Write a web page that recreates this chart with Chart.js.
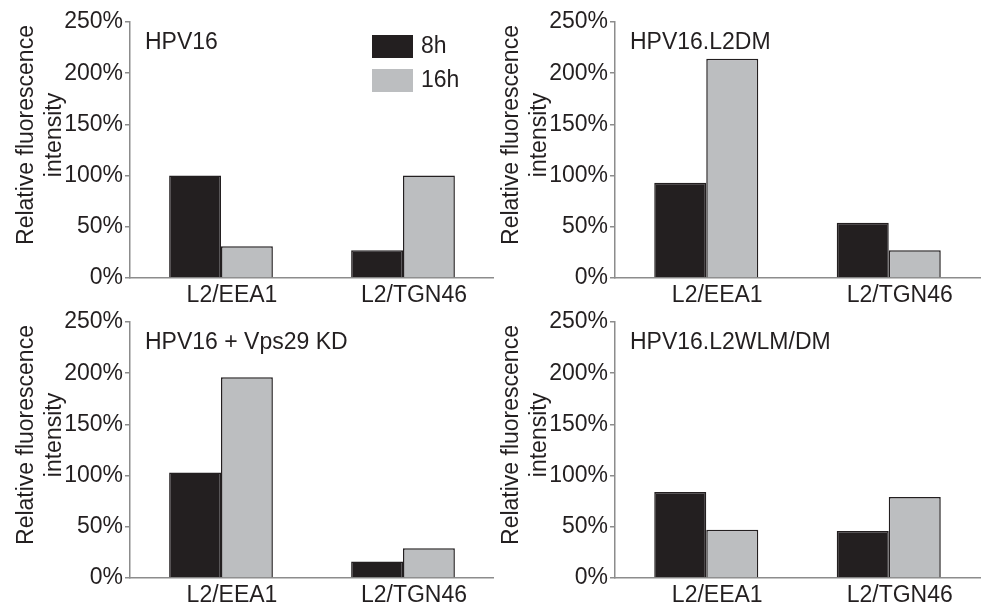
<!DOCTYPE html>
<html>
<head>
<meta charset="utf-8">
<script src="https://cdn.jsdelivr.net/npm/chart.js@4.4.1/dist/chart.umd.min.js"></script>
<style>
  html, body { margin: 0; padding: 0; background: #fff; }
  #wrap { position: relative; width: 984px; height: 603px; overflow: hidden; }
  #wrap canvas { position: absolute; }
</style>
</head>
<body>
<div id="wrap">
  <canvas id="c1" width="494" height="303" style="left:0;top:0"></canvas>
  <canvas id="c2" width="499" height="303" style="left:485px;top:0"></canvas>
  <canvas id="c3" width="494" height="303" style="left:0;top:300px"></canvas>
  <canvas id="c4" width="499" height="303" style="left:485px;top:300px"></canvas>
</div>
<script>
// categories and series
const categories = ['L2/EEA1', 'L2/TGN46'];
const seriesLabels = ['8h', '16h'];
const yTickValues = [0, 50, 100, 150, 200, 250];
const yTitleLines = ['Relative fluorescence', 'intensity'];
const panelTitles = ['HPV16', 'HPV16.L2DM', 'HPV16 + Vps29 KD', 'HPV16.L2WLM/DM'];

// values in %
const hpv16_8h = [100, 27];
const hpv16_16h = [31, 100];
const l2dm_8h = [93, 54];
const l2dm_16h = [214, 27];
const vps29_8h = [103, 16];
const vps29_16h = [196, 29];
const wlm_8h = [84, 46];
const wlm_16h = [47, 79];

const TEXT = '#231f20';
const DARK = '#231f20';
const LIGHT = '#bcbec0';
const AXIS = '#8c8c8c';
const FONT = '"Liberation Sans", Arial, sans-serif';

/** Panel label, rotated y title and the little legend */
const panelText = {
  id: 'panelText',
  afterDraw(chart, args, opts) {
    const { ctx, chartArea } = chart;
    ctx.save();
    ctx.font = '23px ' + FONT;
    ctx.fillStyle = TEXT;
    ctx.textBaseline = 'alphabetic';
    ctx.textAlign = 'left';
    ctx.fillText(opts.title, chartArea.left + 15, chartArea.top + 27);

    if (opts.legend) {
      chart.data.datasets.forEach((ds, i) => {
        const x = chartArea.left + 242;
        const y = chartArea.top + 13 + i * 34;
        ctx.fillStyle = ds.backgroundColor;
        ctx.fillRect(x, y, 41, 23);
        ctx.fillStyle = TEXT;
        ctx.textBaseline = 'middle';
        ctx.fillText(ds.label, x + 49, y + 12);
      });
    }

    ctx.translate(33, 135);
    ctx.rotate(-Math.PI / 2);
    ctx.textAlign = 'center';
    ctx.textBaseline = 'alphabetic';
    ctx.fillStyle = TEXT;
    yTitleLines.forEach((line, i) => ctx.fillText(line, 0, i * 28));
    ctx.restore();
  }
};

function makePanel(id, title, v8, v16, legend, rightPad) {
  return new Chart(document.getElementById(id), {
    type: 'bar',
    data: {
      labels: categories,
      datasets: [
        { label: seriesLabels[0], data: v8, backgroundColor: DARK },
        { label: seriesLabels[1], data: v16, backgroundColor: LIGHT }
      ]
    },
    plugins: [panelText],
    options: {
      responsive: false,
      animation: false,
      layout: { padding: { top: 22, left: 0, right: rightPad, bottom: 0 } },
      datasets: {
        bar: {
          categoryPercentage: 0.57,
          barPercentage: 1,
          borderColor: TEXT,
          borderWidth: 1.5,
          borderSkipped: 'start'
        }
      },
      scales: {
        x: {
          grid: { display: false, drawTicks: false },
          border: { color: AXIS, width: 1.5 },
          ticks: { color: TEXT, padding: 4, labelOffset: 11, font: { family: FONT, size: 23 } },
          afterFit(scale) { scale.height = 25; }
        },
        y: {
          min: 0,
          max: 250,
          afterBuildTicks(scale) { scale.ticks = yTickValues.map(v => ({ value: v })); },
          grid: { drawOnChartArea: false, drawTicks: true, tickLength: 5, color: AXIS, lineWidth: 1.5 },
          border: { color: AXIS, width: 1.5 },
          ticks: {
            color: TEXT,
            padding: 2,
            font: { family: FONT, size: 23 },
            callback: v => v + '%'
          },
          afterFit(scale) { scale.width = 130; }
        }
      },
      plugins: {
        legend: { display: false },
        tooltip: { enabled: false },
        panelText: { title, legend }
      }
    }
  });
}

makePanel('c1', panelTitles[0], hpv16_8h, hpv16_16h, true, 0);
makePanel('c2', panelTitles[1], l2dm_8h, l2dm_16h, false, 4);
makePanel('c3', panelTitles[2], vps29_8h, vps29_16h, false, 0);
makePanel('c4', panelTitles[3], wlm_8h, wlm_16h, false, 4);
</script>
</body>
</html>
